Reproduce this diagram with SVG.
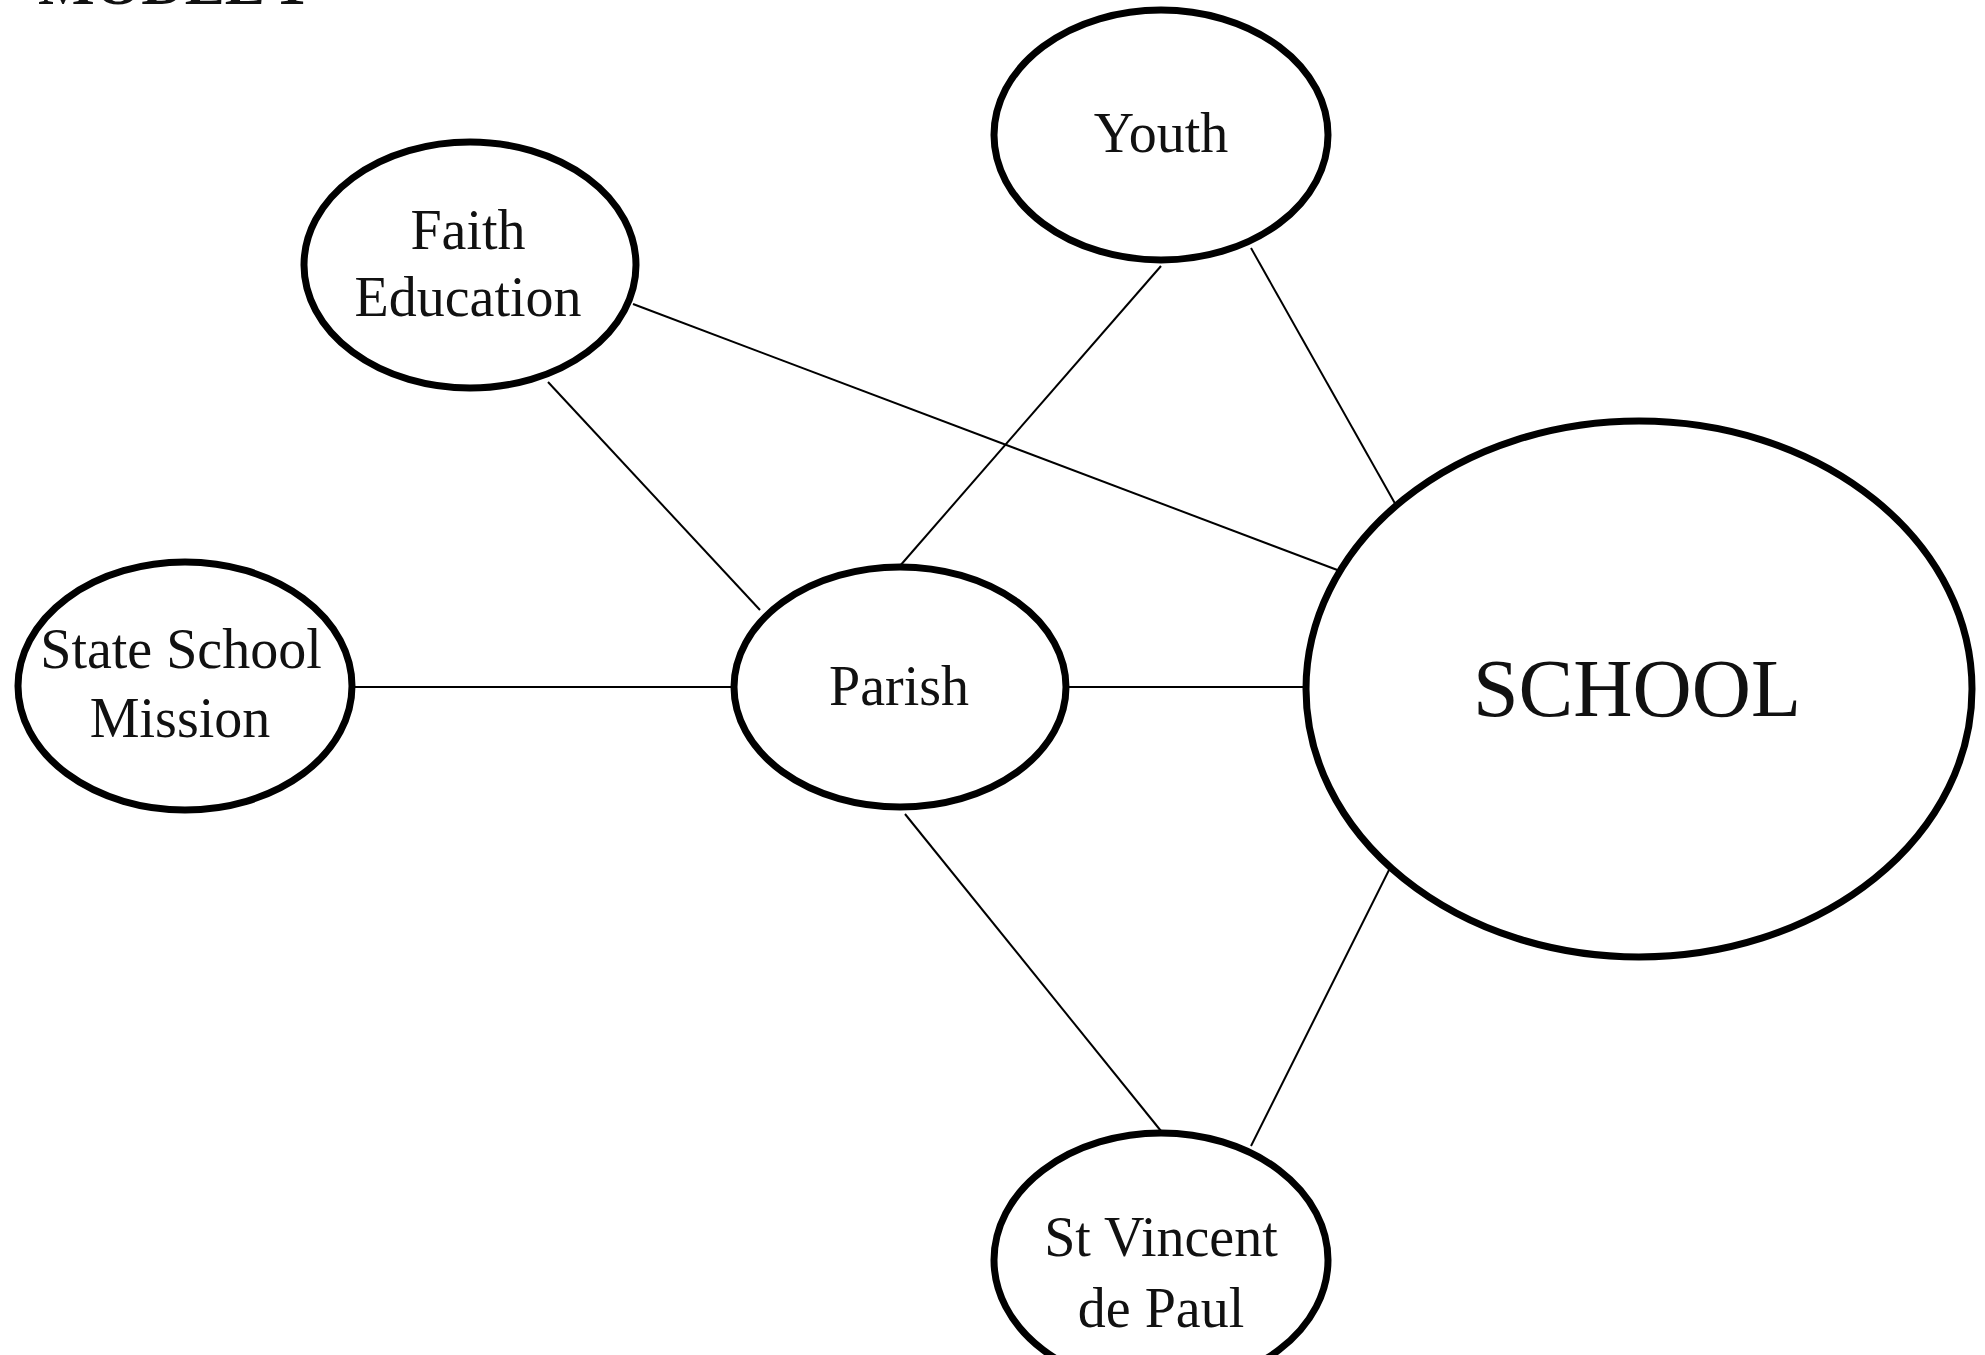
<svg xmlns="http://www.w3.org/2000/svg" width="1985" height="1355" viewBox="0 0 1985 1355">
<style>
.node{fill:#fff;stroke:#000;stroke-width:7}
.lbl{font-family:"Liberation Serif","Times New Roman",serif;font-size:56px;fill:#111;text-anchor:middle}
.big{font-size:82px}
.edge{stroke:#000;stroke-width:2;fill:none}
.title{font-family:"Liberation Serif","Times New Roman",serif;font-size:60px;font-weight:bold;fill:#111}
</style>
<rect width="1985" height="1355" fill="#fff"/>
<text class="title" x="38" y="4">MODEL 1</text>
<g id="connectors">
<line class="edge" x1="633" y1="304" x2="1340" y2="571"/>
<line class="edge" x1="548" y1="382" x2="760" y2="610"/>
<line class="edge" x1="1161" y1="266" x2="899" y2="567"/>
<line class="edge" x1="1251" y1="248" x2="1397" y2="507"/>
<line class="edge" x1="351" y1="687" x2="734" y2="687"/>
<line class="edge" x1="1067" y1="687" x2="1304" y2="687"/>
<line class="edge" x1="905" y1="814" x2="1161" y2="1131"/>
<line class="edge" x1="1390" y1="868" x2="1251" y2="1146"/>
</g>
<g id="youth">
<ellipse class="node" cx="1161" cy="135" rx="167" ry="125"/>
<text class="lbl" x="1161" y="152">Youth</text>
</g>
<g id="faith-education">
<ellipse class="node" cx="470" cy="265" rx="166" ry="123"/>
<text class="lbl" x="468" y="249">Faith</text>
<text class="lbl" x="468" y="316">Education</text>
</g>
<g id="state-school-mission">
<ellipse class="node" cx="185" cy="686" rx="167" ry="124"/>
<text class="lbl" x="181" y="668">State School</text>
<text class="lbl" x="180" y="737">Mission</text>
</g>
<g id="parish">
<ellipse class="node" cx="900" cy="687" rx="166" ry="120"/>
<text class="lbl" x="899" y="705">Parish</text>
</g>
<g id="school">
<ellipse class="node" cx="1639" cy="689" rx="333" ry="268"/>
<text class="lbl big" x="1637" y="716">SCHOOL</text>
</g>
<g id="st-vincent-de-paul">
<ellipse class="node" cx="1161" cy="1260" rx="167" ry="127"/>
<text class="lbl" x="1161" y="1256">St Vincent</text>
<text class="lbl" x="1161" y="1327">de Paul</text>
</g>
</svg>
